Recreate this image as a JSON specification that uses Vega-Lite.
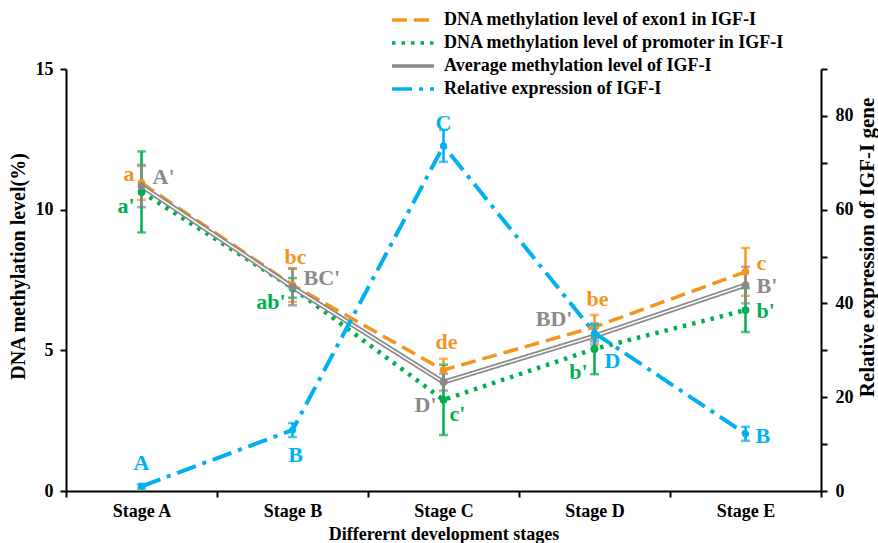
{
  "$schema": "https://vega.github.io/schema/vega-lite/v6.json",
  "width": 755,
  "height": 422,
  "autosize": {"type": "none"},
  "padding": {"left": 66, "top": 69, "right": 57, "bottom": 52},
  "background": "white",
  "config": {
    "view": {"stroke": null},
    "font": "Liberation Serif",
    "axis": {"grid": false, "domainColor": "black", "domainWidth": 2, "tickColor": "black", "tickWidth": 2, "labelColor": "black", "titleColor": "black", "labelFont": "Liberation Serif", "titleFont": "Liberation Serif", "labelFontWeight": "bold", "titleFontWeight": "bold", "labelFontSize": 18, "titleFontSize": 18}
  },
  "datasets": {
    "meth": [
      {"stage": "Stage A", "series": "exon1", "mean": 10.95, "err": 0.6},
      {"stage": "Stage A", "series": "promoter", "mean": 10.63, "err": 1.44},
      {"stage": "Stage A", "series": "average", "mean": 10.84, "err": 0.75},
      {"stage": "Stage B", "series": "exon1", "mean": 7.32, "err": 0.6},
      {"stage": "Stage B", "series": "promoter", "mean": 7.22, "err": 0.35},
      {"stage": "Stage B", "series": "average", "mean": 7.25, "err": 0.65},
      {"stage": "Stage C", "series": "exon1", "mean": 4.3, "err": 0.4},
      {"stage": "Stage C", "series": "promoter", "mean": 3.24, "err": 1.25},
      {"stage": "Stage C", "series": "average", "mean": 3.87, "err": 0.3},
      {"stage": "Stage D", "series": "exon1", "mean": 5.83, "err": 0.43},
      {"stage": "Stage D", "series": "promoter", "mean": 5.05, "err": 0.9},
      {"stage": "Stage D", "series": "average", "mean": 5.51, "err": 0.3},
      {"stage": "Stage E", "series": "exon1", "mean": 7.79, "err": 0.85},
      {"stage": "Stage E", "series": "promoter", "mean": 6.43, "err": 0.78},
      {"stage": "Stage E", "series": "average", "mean": 7.32, "err": 0.65}
    ],
    "expr": [
      {"stage": "Stage A", "series": "expression", "mean": 1.0, "err": 0.5},
      {"stage": "Stage B", "series": "expression", "mean": 13.0, "err": 1.5},
      {"stage": "Stage C", "series": "expression", "mean": 73.6, "err": 3.4},
      {"stage": "Stage D", "series": "expression", "mean": 33.7, "err": 1.8},
      {"stage": "Stage E", "series": "expression", "mean": 12.2, "err": 1.5}
    ],
    "labM": [
      {"stage": "Stage A", "series": "exon1", "mean": 10.95, "text": "a", "pos": "LU"},
      {"stage": "Stage A", "series": "average", "mean": 10.84, "text": "A'", "pos": "RU"},
      {"stage": "Stage A", "series": "promoter", "mean": 10.63, "text": "a'", "pos": "LD"},
      {"stage": "Stage B", "series": "exon1", "mean": 7.32, "text": "bc", "pos": "T"},
      {"stage": "Stage B", "series": "average", "mean": 7.25, "text": "BC'", "pos": "RU"},
      {"stage": "Stage B", "series": "promoter", "mean": 7.22, "text": "ab'", "pos": "LD"},
      {"stage": "Stage C", "series": "exon1", "mean": 4.3, "text": "de", "pos": "T"},
      {"stage": "Stage C", "series": "average", "mean": 3.87, "text": "D'", "pos": "LDD"},
      {"stage": "Stage C", "series": "promoter", "mean": 3.24, "text": "c'", "pos": "RD"},
      {"stage": "Stage D", "series": "exon1", "mean": 5.83, "text": "be", "pos": "T"},
      {"stage": "Stage D", "series": "average", "mean": 5.51, "text": "BD'", "pos": "LUU"},
      {"stage": "Stage D", "series": "promoter", "mean": 5.05, "text": "b'", "pos": "LDD"},
      {"stage": "Stage E", "series": "exon1", "mean": 7.79, "text": "c", "pos": "RU"},
      {"stage": "Stage E", "series": "average", "mean": 7.32, "text": "B'", "pos": "R"},
      {"stage": "Stage E", "series": "promoter", "mean": 6.43, "text": "b'", "pos": "R"}
    ],
    "labE": [
      {"stage": "Stage A", "series": "expression", "mean": 1.0, "text": "A", "pos": "T"},
      {"stage": "Stage B", "series": "expression", "mean": 13.0, "text": "B", "pos": "B"},
      {"stage": "Stage C", "series": "expression", "mean": 73.6, "text": "C", "pos": "T"},
      {"stage": "Stage D", "series": "expression", "mean": 33.7, "text": "D", "pos": "RDD"},
      {"stage": "Stage E", "series": "expression", "mean": 12.2, "text": "B", "pos": "R"}
    ]
  },
  "encoding": {
    "x": {
      "field": "stage", "type": "nominal", "sort": null,
      "scale": {"type": "band", "paddingInner": 0, "paddingOuter": 0},
      "axis": {"title": "Differernt development stages", "labelAngle": 0, "tickBand": "extent", "tickSize": 6, "labelPadding": 5, "titlePadding": 5}
    }
  },
  "layer": [
    {
      "data": {"name": "meth"},
      "encoding": {
        "y": {
          "field": "mean", "type": "quantitative",
          "scale": {"domain": [0, 15], "nice": false, "zero": true},
          "axis": {"title": "DNA methylation level(%)", "values": [0, 5, 10, 15], "tickSize": 6, "labelPadding": 7, "titlePadding": 7, "titleFontSize": 20, "titleY": 197}
        }
      },
      "layer": [
        {
          "transform": [{"filter": "datum.series === 'promoter'"}],
          "mark": {"type": "line", "strokeWidth": 4.5},
          "encoding": {
            "color": {"field": "series", "type": "nominal", "scale": {"domain": ["exon1", "promoter", "average", "expression"], "range": ["#F7941D", "#00B050", "#8A8A8A", "#00B0F0"]},
              "legend": {"orient": "none", "legendX": 336, "legendY": -60, "title": null, "symbolType": "M-2.33,0H2.33", "symbolSize": 324, "symbolStrokeWidth": 3.5, "labelFont": "Liberation Serif", "labelFontWeight": "bold", "labelFontSize": 18, "labelColor": "black", "labelLimit": 600, "rowPadding": 3, "labelOffset": 20,
                "labelExpr": "datum.label === 'exon1' ? 'DNA methylation level of exon1 in IGF-I' : datum.label === 'promoter' ? 'DNA methylation level of promoter in IGF-I' : datum.label === 'average' ? 'Average methylation level of IGF-I' : 'Relative expression of IGF-I'"}},
            "strokeDash": {"field": "series", "type": "nominal", "scale": {"domain": ["exon1", "promoter", "average", "expression"], "range": [[15, 7], [3.5, 6], [1, 0], [20, 7, 4, 7]]}}
          }
        },
        {
          "transform": [{"filter": "datum.series === 'exon1'"}],
          "mark": {"type": "line", "strokeWidth": 3.5},
          "encoding": {
            "color": {"field": "series", "type": "nominal"},
            "strokeDash": {"field": "series", "type": "nominal"}
          }
        },
        {
          "transform": [{"filter": "datum.series === 'average'"}],
          "mark": {"type": "line", "strokeWidth": 5},
          "encoding": {
            "color": {"field": "series", "type": "nominal"},
            "strokeDash": {"field": "series", "type": "nominal"}
          }
        },
        {
          "transform": [{"filter": "datum.series === 'average'"}],
          "mark": {"type": "line", "strokeWidth": 1.5, "color": "white"},
          "encoding": {}
        },
        {
          "mark": {"type": "errorbar", "ticks": {"size": 9, "thickness": 2.5}, "rule": {"strokeWidth": 2.5}},
          "encoding": {
            "yError": {"field": "err"},
            "color": {"field": "series", "type": "nominal", "legend": null}
          }
        },
        {
          "mark": {"type": "point", "filled": true, "opacity": 1, "size": 60},
          "encoding": {"color": {"field": "series", "type": "nominal", "legend": null}}
        },
        {"data": {"name": "labM"}, "transform": [{"filter": "datum.pos === 'R'"}], "mark": {"type": "text", "dx": 11, "dy": 1, "align": "left", "baseline": "middle", "fontWeight": "bold", "fontSize": 22}, "encoding": {"text": {"field": "text"}, "color": {"field": "series", "type": "nominal", "legend": null}}},
        {"data": {"name": "labM"}, "transform": [{"filter": "datum.pos === 'RU'"}], "mark": {"type": "text", "dx": 11, "dy": -9, "align": "left", "baseline": "middle", "fontWeight": "bold", "fontSize": 22}, "encoding": {"text": {"field": "text"}, "color": {"field": "series", "type": "nominal", "legend": null}}},
        {"data": {"name": "labM"}, "transform": [{"filter": "datum.pos === 'RD'"}], "mark": {"type": "text", "dx": 6, "dy": 14, "align": "left", "baseline": "middle", "fontWeight": "bold", "fontSize": 22}, "encoding": {"text": {"field": "text"}, "color": {"field": "series", "type": "nominal", "legend": null}}},
        {"data": {"name": "labM"}, "transform": [{"filter": "datum.pos === 'LU'"}], "mark": {"type": "text", "dx": -7, "dy": -9, "align": "right", "baseline": "middle", "fontWeight": "bold", "fontSize": 22}, "encoding": {"text": {"field": "text"}, "color": {"field": "series", "type": "nominal", "legend": null}}},
        {"data": {"name": "labM"}, "transform": [{"filter": "datum.pos === 'LUU'"}], "mark": {"type": "text", "dx": -22, "dy": -17, "align": "right", "baseline": "middle", "fontWeight": "bold", "fontSize": 22}, "encoding": {"text": {"field": "text"}, "color": {"field": "series", "type": "nominal", "legend": null}}},
        {"data": {"name": "labM"}, "transform": [{"filter": "datum.pos === 'LD'"}], "mark": {"type": "text", "dx": -7, "dy": 14, "align": "right", "baseline": "middle", "fontWeight": "bold", "fontSize": 22}, "encoding": {"text": {"field": "text"}, "color": {"field": "series", "type": "nominal", "legend": null}}},
        {"data": {"name": "labM"}, "transform": [{"filter": "datum.pos === 'LDD'"}], "mark": {"type": "text", "dx": -7, "dy": 23, "align": "right", "baseline": "middle", "fontWeight": "bold", "fontSize": 22}, "encoding": {"text": {"field": "text"}, "color": {"field": "series", "type": "nominal", "legend": null}}},
        {"data": {"name": "labM"}, "transform": [{"filter": "datum.pos === 'T'"}], "mark": {"type": "text", "dx": 3, "dy": -28, "align": "center", "baseline": "middle", "fontWeight": "bold", "fontSize": 22}, "encoding": {"text": {"field": "text"}, "color": {"field": "series", "type": "nominal", "legend": null}}}
      ]
    },
    {
      "data": {"name": "expr"},
      "encoding": {
        "y": {
          "field": "mean", "type": "quantitative",
          "scale": {"domain": [0, 90], "nice": false, "zero": true},
          "axis": {"orient": "right", "title": "Relative expression of IGF-I gene", "values": [0, 10, 20, 30, 40, 50, 60, 70, 80, 90], "labelExpr": "datum.value % 20 === 0 && datum.value < 90 ? datum.label : ''", "tickSize": 6, "labelPadding": 8, "titlePadding": 3, "titleFontSize": 21, "titleAngle": -90, "titleBaseline": "top", "titleY": 178}
        }
      },
      "layer": [
        {
          "mark": {"type": "line", "strokeWidth": 4},
          "encoding": {
            "color": {"field": "series", "type": "nominal"},
            "strokeDash": {"field": "series", "type": "nominal"}
          }
        },
        {
          "mark": {"type": "errorbar", "ticks": {"size": 9, "thickness": 2.5}, "rule": {"strokeWidth": 2.5}},
          "encoding": {
            "yError": {"field": "err"},
            "color": {"field": "series", "type": "nominal", "legend": null}
          }
        },
        {
          "mark": {"type": "point", "filled": true, "opacity": 1, "size": 50},
          "encoding": {"color": {"field": "series", "type": "nominal", "legend": null}}
        },
        {"data": {"name": "labE"}, "transform": [{"filter": "datum.pos === 'R'"}], "mark": {"type": "text", "dx": 10, "dy": 2, "align": "left", "baseline": "middle", "fontWeight": "bold", "fontSize": 22}, "encoding": {"text": {"field": "text"}, "color": {"field": "series", "type": "nominal", "legend": null}}},
        {"data": {"name": "labE"}, "transform": [{"filter": "datum.pos === 'RDD'"}], "mark": {"type": "text", "dx": 10, "dy": 28, "align": "left", "baseline": "middle", "fontWeight": "bold", "fontSize": 22}, "encoding": {"text": {"field": "text"}, "color": {"field": "series", "type": "nominal", "legend": null}}},
        {"data": {"name": "labE"}, "transform": [{"filter": "datum.pos === 'T'"}], "mark": {"type": "text", "dx": 0, "dy": -23, "align": "center", "baseline": "middle", "fontWeight": "bold", "fontSize": 22}, "encoding": {"text": {"field": "text"}, "color": {"field": "series", "type": "nominal", "legend": null}}},
        {"data": {"name": "labE"}, "transform": [{"filter": "datum.pos === 'B'"}], "mark": {"type": "text", "dx": 3, "dy": 25, "align": "center", "baseline": "middle", "fontWeight": "bold", "fontSize": 22}, "encoding": {"text": {"field": "text"}, "color": {"field": "series", "type": "nominal", "legend": null}}}
      ]
    }
  ],
  "resolve": {"scale": {"y": "independent"}}
}
